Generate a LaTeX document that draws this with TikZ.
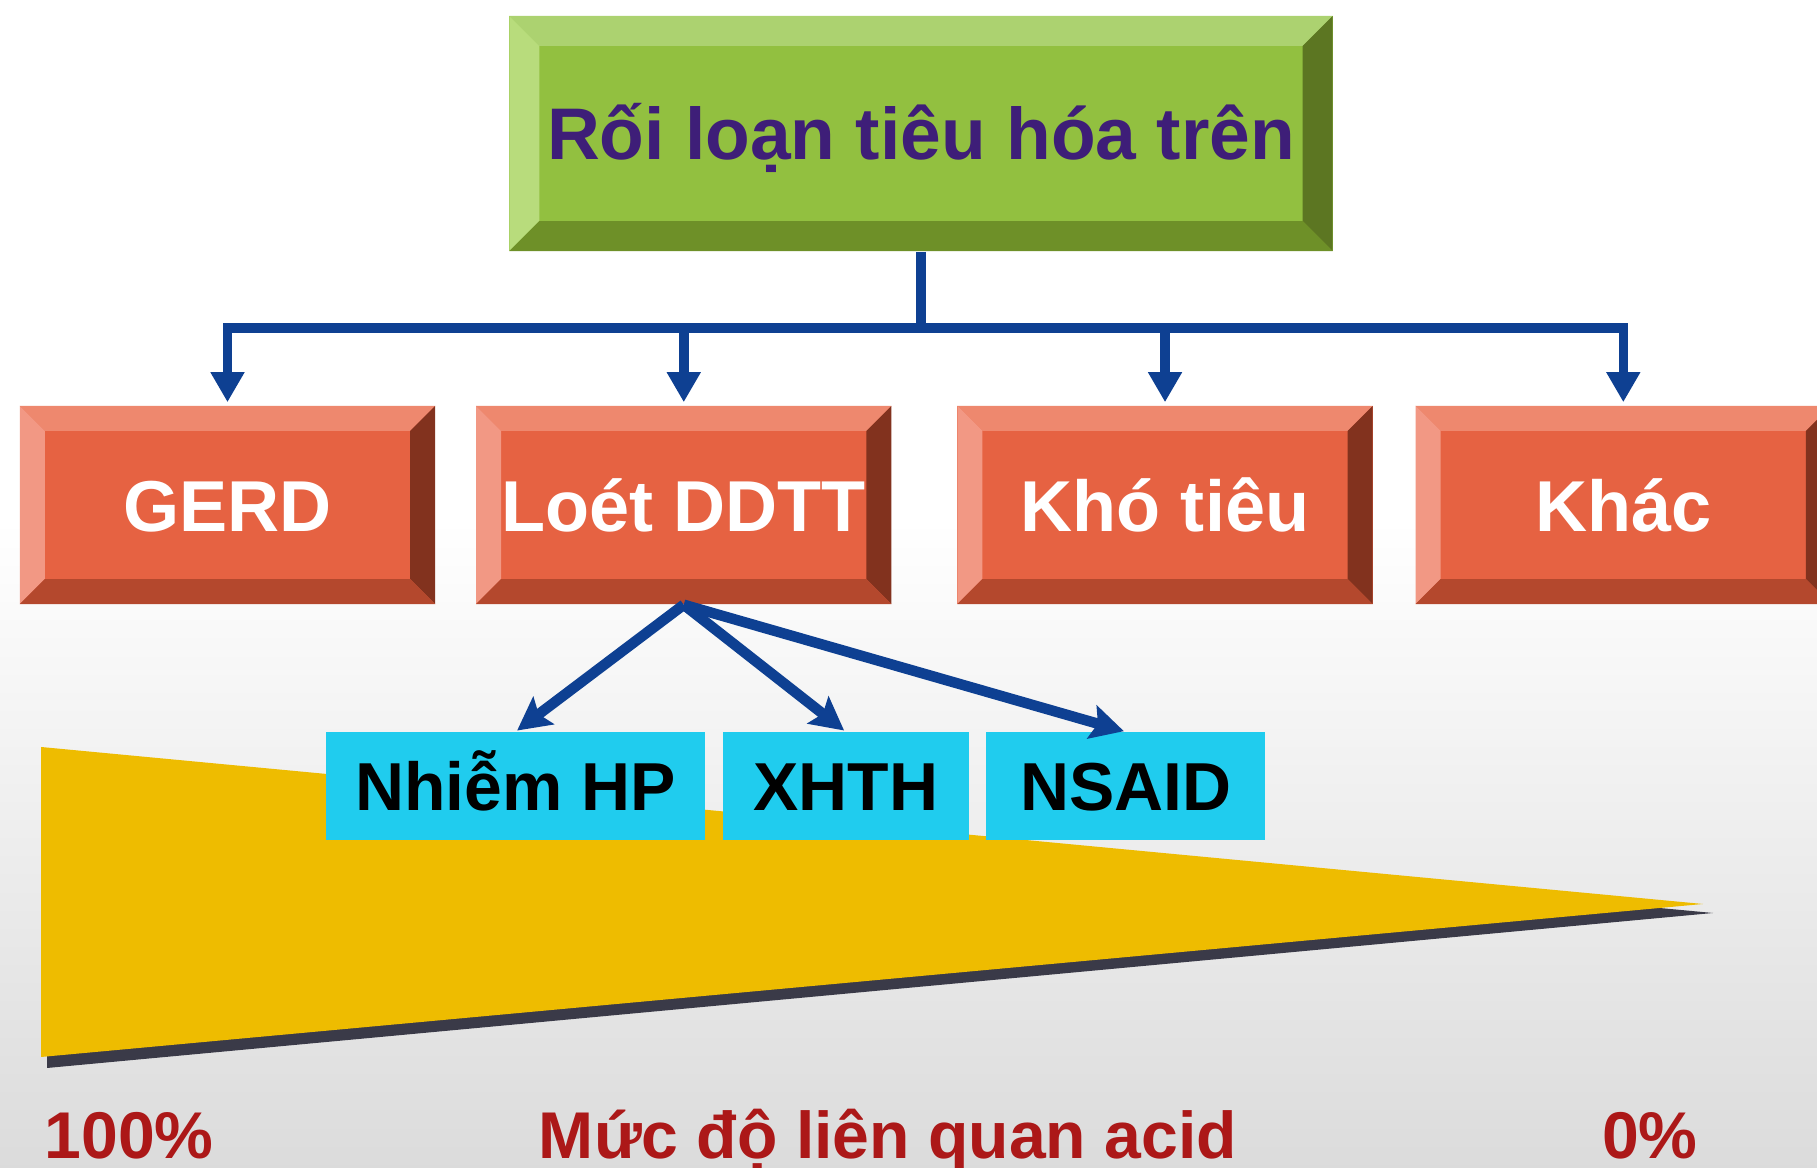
\documentclass[tikz,border=0pt]{standalone}
\usepackage{fontspec}
\setmainfont{Liberation Sans}
\usetikzlibrary{arrows.meta}

\definecolor{navy}{RGB}{14,64,146}
\definecolor{gface}{RGB}{146,192,64}
\definecolor{gtop}{RGB}{172,210,112}
\definecolor{gleft}{RGB}{184,220,124}
\definecolor{gright}{RGB}{92,118,34}
\definecolor{gbottom}{RGB}{110,144,40}
\definecolor{rface}{RGB}{230,98,66}
\definecolor{rtop}{RGB}{238,136,110}
\definecolor{rleft}{RGB}{242,152,132}
\definecolor{rright}{RGB}{130,50,30}
\definecolor{rbottom}{RGB}{180,72,45}
\definecolor{cyanfill}{RGB}{32,204,238}
\definecolor{gold}{RGB}{238,188,0}
\definecolor{shadowgray}{RGB}{58,58,72}
\definecolor{titlepurple}{RGB}{62,30,120}
\definecolor{axisred}{RGB}{172,24,24}

\newcommand{\bevelfaces}[5]{%
	\path (path picture bounding box.north west) coordinate (bvnw)
		(path picture bounding box.north east) coordinate (bvne)
		(path picture bounding box.south east) coordinate (bvse)
		(path picture bounding box.south west) coordinate (bvsw);
	\fill[#2] (bvnw) -- (bvne) -- ([shift={(-#1,-#1)}]bvne) -- ([shift={(#1,-#1)}]bvnw) -- cycle;
	\fill[#3] (bvnw) -- (bvsw) -- ([shift={(#1,#1)}]bvsw) -- ([shift={(#1,-#1)}]bvnw) -- cycle;
	\fill[#4] (bvne) -- (bvse) -- ([shift={(-#1,#1)}]bvse) -- ([shift={(-#1,-#1)}]bvne) -- cycle;
	\fill[#5] (bvsw) -- (bvse) -- ([shift={(-#1,#1)}]bvse) -- ([shift={(#1,#1)}]bvsw) -- cycle;
}

\begin{document}
\begin{tikzpicture}[x=0.01cm, y=-0.01cm, node distance=4.56cm,
	greenbox/.style={fill=gface, minimum width=8.23cm, minimum height=2.35cm, inner sep=0pt,
		text=titlepurple, text height=0.53cm, text depth=0pt,
		font=\fontsize{20.8pt}{24pt}\selectfont\bfseries,
		path picture={\bevelfaces{0.3cm}{gtop}{gleft}{gright}{gbottom}}},
	redbox/.style={fill=rface, minimum width=4.15cm, minimum height=1.98cm, inner sep=0pt,
		text=white, text height=0.52cm, text depth=0pt,
		font=\fontsize{20.5pt}{24pt}\selectfont\bfseries,
		path picture={\bevelfaces{0.25cm}{rtop}{rleft}{rright}{rbottom}}},
	cyanbox/.style={fill=cyanfill, minimum height=1.07cm, inner sep=0pt,
		text height=0.49cm, text depth=0pt,
		font=\fontsize{19.3pt}{23pt}\selectfont\bfseries},
	axislabel/.style={text=axisred, inner sep=0pt, font=\fontsize{18.8pt}{23pt}\selectfont\bfseries},
	line/.style={draw=navy, line width=0.095cm},
	link/.style={line, shorten >=0.03cm, -{Triangle[length=0.3cm, width=0.32cm]}},
	branch/.style={draw=navy, line width=0.105cm, shorten >=0.02cm,
		-{Stealth[length=0.33cm, width=0.34cm, inset=0.06cm]}}]
	\useasboundingbox (0,0) rectangle (1817,1168);
	\fill[white] (0,0) rectangle (1817,1168);
	\shade[top color=white, bottom color=black!14] (0,520) rectangle (1817,1168);

	\fill[shadowgray] (47,757) -- (1713,913) -- (47,1068) -- cycle;
	\fill[gold] (41,747) -- (1703,904) -- (41,1057) -- cycle;

	\node[greenbox] (top) at (921,133.5) {Rối loạn tiêu hóa trên};
	\node[redbox] (gerd) at (227.5,505) {GERD};
	\node[redbox, right of=gerd] (loet) {Loét DDTT};
	\node[redbox, right of=loet, node distance=4.81cm] (kho) {Khó tiêu};
	\node[redbox, right of=kho, node distance=4.58cm] (khac) {Khác};

	\node[cyanbox, minimum width=3.79cm] (hp) at (515.5,786) {Nhiễm HP};
	\node[cyanbox, minimum width=2.46cm, right of=hp, node distance=3.3cm] (xhth) {XHTH};
	\node[cyanbox, minimum width=2.79cm, right of=xhth, node distance=2.8cm] (nsaid) {NSAID};

	\coordinate (hub) at ([yshift=-0.76cm]top.south);
	\draw[line] (top.south) -- (hub);
	\foreach \n in {gerd,loet,kho,khac}
		\draw[link] (hub) -| (\n.north);

	\draw[branch] (loet.south) -- (hp.north);
	\draw[branch] (loet.south) -- (xhth.north);
	\draw[branch] (loet.south) -- (nsaid.north);

	\node[axislabel, anchor=base west] (full) at (44,1159) {100\%};
	\node[axislabel, anchor=base] (scale) at (888,1159) {Mức độ liên quan acid};
	\node[axislabel, anchor=base] (none) at (1650,1159) {0\%};
\end{tikzpicture}
\end{document}
